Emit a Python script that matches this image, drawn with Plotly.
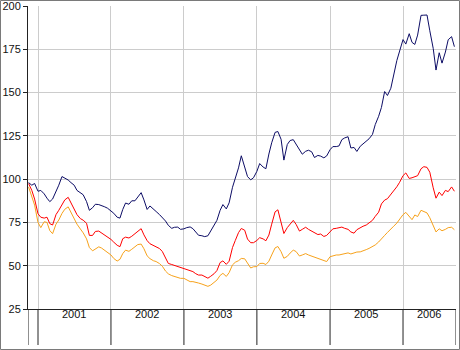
import datetime as dt
import plotly.graph_objects as go

# ---------------- data (semi-monthly readings, 1st & 15th) ----------------
start_date = dt.date(2000, 11, 15)
end_date = dt.date(2006, 9, 15)

navy = [
    98, 96.5, 97.5,  # 2000
    93, 93.5, 91.5, 89, 87, 88.5, 92.5, 96.5, 101.5, 100.8, 99.5, 98,
    96.5, 93.5, 92.2, 91, 87, 82, 83.5, 85.5, 85.3, 84.8, 84, 83.2,  # 2001
    81.8, 80.3, 78, 77.5, 82.5, 86.2, 85.5, 87.5, 87.5, 89.5, 92.2, 88,
    82.5, 84.5, 82.5, 81.3, 79.5, 77.8, 75.8, 73.3, 71.6, 72.2, 72.3, 71,  # 2002
    71.3, 72, 72.4, 71.4, 69.6, 67.6, 67.3, 66.8, 67.3, 70, 73.2, 76.2,
    82, 85.3, 82.8, 86.3, 95.3, 100.4, 106.5, 113.5, 106.6, 101.5, 99.6, 100.8,  # 2003
    104.5, 109, 107, 106, 114.5, 121, 127, 127.5, 123, 111, 120, 122.3,
    122.8, 120.3, 117, 114.4, 116.1, 116.7, 115.8, 112.5, 113.7, 113.3, 112.3, 113.4,  # 2004
    117, 118.8, 118.8, 119.2, 122.8, 123.8, 124.5, 118, 118.3, 116, 119, 120.5,
    122.2, 123.3, 125.8, 131.5, 136.3, 141.4, 150.6, 148.3, 152.5, 160.4, 168.5, 174,  # 2005
    180.6, 178, 184, 179, 177.8, 183.2, 194.6, 194.7, 194.8, 185.7, 175.5, 163,
    173, 167, 173.4, 180.5, 182.3, 176.5,  # 2006
]

red = [
    97.5, 93.5, 88.5,
    80, 78, 77.5, 78, 74.3, 73.5, 79.5, 82, 85.5, 88, 89.5, 86,
    83, 79.5, 77.2, 76.3, 74.5, 67.5, 67.5, 69.8, 70, 69, 67.7, 66.7,
    65.2, 63.6, 61.8, 61, 65.6, 66.5, 66, 67, 68.5, 69.5, 71.4, 67.8,
    64.5, 62.7, 61.6, 61, 59.9, 58.2, 54.3, 51.3, 50.7, 50.1, 49.5, 49,
    48.4, 47.8, 47.2, 46.6, 45.4, 44.6, 44.6, 43.9, 42.8, 43.9, 45.4, 47.2,
    51.8, 52.8, 50.8, 52.6, 60.5, 64.6, 69.1, 71.5, 70.5, 65.4, 63.3, 63.3,
    64.6, 66.2, 65.5, 64.4, 67.7, 74, 81.1, 82.3, 75.8, 68.6, 72, 73.7,
    76.2, 73.9, 70, 71, 72.2, 71, 70, 69.2, 68, 68.3, 66.9, 67.5,
    69.6, 71.3, 71.6, 71.8, 72.3, 71.6, 71, 69.5, 68.8, 70.8, 72, 72.8,
    73.5, 74.5, 76.2, 78.5, 80.9, 85.7, 87.9, 88.7, 91, 92.9, 95.6, 98.2,
    102, 103.6, 100.4, 100.8, 101.5, 102, 106, 107.2, 106.8, 104, 95, 89,
    92.5, 90.5, 93.5, 92.8, 95.5, 93,
]

orange = [
    95.5, 90.5, 85,
    75, 72, 75.4, 75, 70.3, 68.5, 74, 76.4, 80.2, 82.6, 84, 80.7,
    77.7, 74, 71.2, 69, 65.5, 60.5, 58.6, 59.7, 60.9, 60.2, 58.9, 57.6,
    56.2, 54.2, 52.7, 53.7, 57, 59, 58.3, 59.5, 61, 62.2, 62.5, 59.8,
    55.7, 54.1, 52.9, 52.4, 51.2, 49.7, 46.9, 45.3, 44.3, 43.8, 43.1, 42.7,
    42.7, 42, 40.8, 40.8, 40.6, 40, 39.4, 38.9, 38.1, 38.8, 40.3, 41.7,
    44.4, 45.6, 43.8, 46, 50.5, 52, 52.9, 54.2, 54, 51.3, 48.7, 49.4,
    49.5, 51.3, 51.4, 50.7, 52.6, 56.2, 60.3, 61.1, 58.1, 54.3, 55.4, 57.3,
    59, 58.2, 55.6, 56.2, 57, 56.2, 55.5, 55, 54.4, 53.9, 53.1, 52.4,
    55.2, 55.8, 56.2, 56.2, 56.6, 57.2, 57.4, 56.8, 57.5, 57.9, 58, 58.8,
    59.3, 60, 61, 62, 63.7, 65.8, 67.5, 69.2, 70.9, 72.8, 74.6, 76.8,
    79.5, 80.8, 78.6, 76.6, 79.3, 78.4, 82, 81.5, 80.5, 77.7, 73, 69.5,
    71.3, 70.2, 71, 72, 72.2, 70.8,
]

years = [2001, 2002, 2003, 2004, 2005, 2006]
y_ticks = [25, 50, 75, 100, 125, 150, 175, 200]
x_range = ["2000-11-12", "2006-09-23"]

# sampling dates: 1st and 15th of each month
dates = []
y, m = start_date.year, start_date.month
while True:
    for d in (1, 15):
        day = dt.date(y, m, d)
        if start_date <= day <= end_date:
            dates.append(day)
    if (y, m) == (end_date.year, end_date.month):
        break
    m += 1
    if m == 13:
        m, y = 1, y + 1

FONT = "Liberation Sans, Arial, sans-serif"

fig = go.Figure()
for vals, color in [(orange, "#f7a21b"), (red, "#ff0000"), (navy, "#0d0d66")]:
    fig.add_trace(go.Scatter(x=dates[:len(vals)], y=vals, mode="lines",
                             line=dict(color=color, width=1), hoverinfo="skip",
                             showlegend=False))

W, H = 460, 350
ML, MR, MT, MB = 28, 4, 6, 41
pw, ph = W - ML - MR, H - MT - MB

def px_to_paper_x(px):
    return (px - ML) / pw

def py_to_paper_y(py):
    return (H - MB - py) / ph

box_bottom = py_to_paper_y(345)

shapes = []
x_start = dt.date.fromisoformat(x_range[0])
x_end = dt.date.fromisoformat(x_range[1])
bounds = [dt.date(yr, 1, 1) for yr in years] + [x_end]
for b in bounds:
    shapes.append(dict(type="line", xref="x", yref="paper", x0=b, x1=b,
                       y0=0, y1=box_bottom, line=dict(color="#222", width=1)))
shapes.append(dict(type="line", xref="x", yref="paper", x0=x_start, x1=x_start,
                   y0=0, y1=box_bottom, line=dict(color="#222", width=1)))
# outer frame
shapes.append(dict(type="rect", xref="paper", yref="paper",
                   x0=px_to_paper_x(0.5), x1=px_to_paper_x(W - 0.5),
                   y0=py_to_paper_y(H - 0.5), y1=py_to_paper_y(0.5),
                   line=dict(color="#7a7a7a", width=1), layer="above"))

annotations = []
for i, yr in enumerate(years):
    a = dt.date(yr, 1, 1)
    b = bounds[i + 1]
    mid = a + (b - a) / 2
    annotations.append(dict(x=mid, xref="x", y=py_to_paper_y(322), yref="paper",
                            text=str(yr), showarrow=False,
                            font=dict(family=FONT, size=11, color="#111")))

fig.update_layout(
    width=W, height=H,
    margin=dict(l=ML, r=MR, t=MT, b=MB),
    paper_bgcolor="white", plot_bgcolor="white",
    shapes=shapes, annotations=annotations,
    xaxis=dict(type="date", range=x_range, tickvals=[dt.date(yr, 1, 1) for yr in years],
               showticklabels=False, ticks="", showgrid=True, gridcolor="#cccccc",
               gridwidth=1, showline=True, linecolor="#222", linewidth=1,
               zeroline=False, fixedrange=True),
    yaxis=dict(range=[25, 200], tickvals=y_ticks, ticks="outside", ticklen=4,
               tickcolor="#222", showgrid=True, gridcolor="#cccccc", gridwidth=1,
               showline=True, linecolor="#222", linewidth=1, zeroline=False,
               automargin=False, ticklabeloverflow="allow",
               tickfont=dict(family=FONT, size=11, color="#111"), fixedrange=True),
)

fig.write_html("out.html", config={"displayModeBar": False},
               post_script="document.body.style.margin='0px';document.body.style.overflow='hidden';")
